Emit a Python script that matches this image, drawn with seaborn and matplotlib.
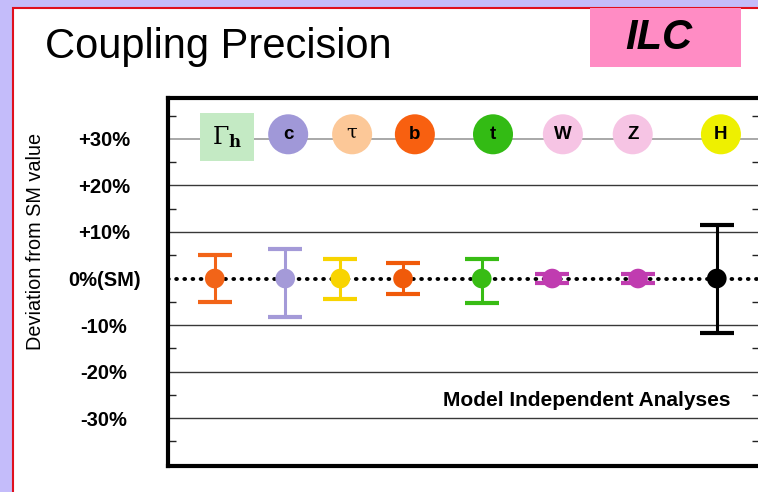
import pandas as pd
import seaborn as sns
import matplotlib.pyplot as plt
from matplotlib.patches import Rectangle
from matplotlib.ticker import FixedLocator

# couplings and their measured precision (deviation from SM, in %)
couplings = [r"$\Gamma_{\mathbf{h}}$", "c", "τ", "b", "t", "W", "Z", "H"]
point_x = [0.79, 1.98, 2.91, 3.97, 5.30, 6.49, 7.94, 9.27]
label_x = [1.00, 2.03, 3.11, 4.17, 5.49, 6.67, 7.85, 9.34]
deviation = [0, 0, 0, 0, 0, 0, 0, 0]
err_up = [5.0, 6.3, 4.2, 3.3, 4.3, 1.0, 1.0, 11.6]
err_down = [5.0, 8.2, 4.3, 3.4, 5.2, 1.0, 1.0, 11.8]
bar_colors = ["#f26418", "#a49ad8", "#f8d400", "#f05a0a", "#38bc14",
              "#c03cb0", "#c03cb0", "#000000"]
badge_colors = ["#c4eac4", "#a098d8", "#fcc898", "#f86010", "#33bb14",
                "#f6c4e4", "#f6c4e4", "#eef000"]
y_ticks = [30, 20, 10, 0, -10, -20, -30]
y_labels = ["+30%", "+20%", "+10%", "0%(SM)", "-10%", "-20%", "-30%"]
minor_ticks = [35, 25, 15, 5, -5, -15, -25, -35]
badge_y = 31

df = pd.DataFrame({"x": point_x, "dev": deviation, "coupling": couplings})

sns.set_theme(style="white")
plt.rcParams["font.family"] = ["Liberation Sans", "DejaVu Sans"]
plt.rcParams["mathtext.fontset"] = "dejavuserif"
for key in ["text.color", "axes.labelcolor", "xtick.color", "ytick.color"]:
    plt.rcParams[key] = "black"

fig = plt.figure(figsize=(7.58, 4.92), dpi=100)
fig.patch.set_facecolor("#c4bcfa")
fig.patches.append(Rectangle((12.5 / 758, -0.05), 1.0, 0.9837 + 0.05,
                             transform=fig.transFigure, facecolor="white",
                             edgecolor="#e0101e", linewidth=1.5, zorder=-2))
fig.patches.append(Rectangle((590 / 758, 1 - 67 / 492), 151 / 758, 59 / 492,
                             transform=fig.transFigure, facecolor="#ff8cc4",
                             edgecolor="none", zorder=-1))
fig.text(659 / 758, 1 - 49 / 492, "ILC", fontsize=30, fontweight="bold",
         fontstyle="italic", ha="center", va="baseline")
fig.text(45 / 758, 1 - 58 / 492, "Coupling Precision", fontsize=30,
         ha="left", va="baseline")
fig.text(36 / 758, 1 - 241.5 / 492, "Deviation from SM value", fontsize=14.3,
         rotation=90, ha="center", va="center")

ax = fig.add_axes([168 / 758, 0.0528, (760 - 168) / 758, 0.748])
ax.set_zorder(2)
ax.set_facecolor("white")
ax.set_xlim(0, 10)
ax.set_ylim(-40.3, 38.8)

# grid lines
for yv in y_ticks:
    if yv == 0:
        continue
    ax.axhline(yv, color="#9a9a9a" if yv == 30 else "#383838",
               lw=1.2 if yv == 30 else 1.0, zorder=1)
ax.axhline(0, color="black", lw=2.8, linestyle=(0, (0.2, 1.9)),
           dash_capstyle="round", zorder=2)

# error bars and central values
for x, y, lo, hi, col in zip(point_x, deviation, err_down, err_up, bar_colors):
    ax.errorbar(x, y, yerr=[[lo], [hi]], fmt="none", ecolor=col,
                elinewidth=2.2, capsize=12, capthick=3, zorder=3)
sns.scatterplot(data=df, x="x", y="dev", hue="coupling", palette=bar_colors,
                s=200, edgecolor="none", legend=False, zorder=4, ax=ax)

# badges on the top row
box = [(-27, -24), (27, -24), (27, 24), (-27, 24), (-27, -24)]
ax.scatter([label_x[0]], [badge_y - 0.6], marker=box, s=1512,
           color=badge_colors[0], edgecolor="none", zorder=4)
ax.scatter(label_x[1:], [badge_y] * 7, marker="o", s=830,
           color=badge_colors[1:], edgecolor="none", zorder=4)
for i, (x, lab) in enumerate(zip(label_x, couplings)):
    if i == 0:
        ax.text(x, badge_y - 0.6, lab, fontsize=17, ha="center", va="center",
                zorder=5)
    elif lab == "τ":
        ax.text(x, badge_y + 0.3, lab, fontsize=14, family="DejaVu Serif",
                ha="center", va="center", zorder=5)
    else:
        ax.text(x, badge_y, lab, fontsize=13.5, fontweight="bold",
                ha="center", va="center", zorder=5)

ax.text(4.65, -27.3, "Model Independent Analyses", fontsize=15,
        fontweight="bold", ha="left", va="baseline")

# axes styling
ax.set_xticks([])
ax.set_yticks(y_ticks)
ax.set_yticklabels(y_labels, fontsize=14.5, fontweight="bold")
for tl in ax.get_yticklabels():
    tl.set_horizontalalignment("center")
ax.yaxis.set_minor_locator(FixedLocator(minor_ticks))
ax.tick_params(axis="y", which="major", length=0, pad=46)
ax.tick_params(axis="y", which="minor", direction="in", length=6, width=1,
               left=True, right=True, color="#222222")
ax.set_xlabel("")
ax.set_ylabel("")
for sp in ax.spines.values():
    sp.set_color("black")
    sp.set_linewidth(3)

fig.savefig("out.png", dpi=100, facecolor=fig.get_facecolor())
